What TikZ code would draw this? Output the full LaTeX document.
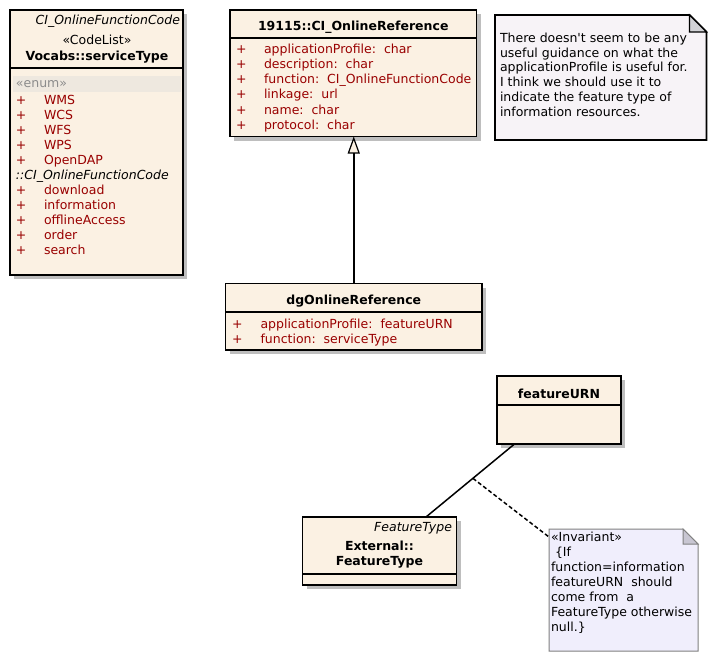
\documentclass[tikz,border=0pt]{standalone}
\usepackage{fontspec}
\setmainfont{DejaVu Sans}[Ligatures=TeXOff]
\usetikzlibrary{arrows.meta,shadows}
\definecolor{cream}{HTML}{FBF1E3}
\definecolor{shadowc}{HTML}{BEBEBE}
\definecolor{attrred}{HTML}{990000}
\definecolor{enumband}{HTML}{EEE8DF}
\definecolor{enumtext}{HTML}{8C8C8C}
\definecolor{noteone}{HTML}{F7F3F7}
\definecolor{foldone}{HTML}{D2D2D6}
\definecolor{notetwo}{HTML}{F0EEFC}
\definecolor{foldtwo}{HTML}{C8C6D2}
\definecolor{bordertwo}{HTML}{808080}
\tikzset{
  every node/.style={font=\fontsize{12.5}{15}\selectfont, inner sep=0pt, outer sep=0pt},
  umlbox/.style={draw=black, line width=1.8pt, fill=cream, anchor=north west, rectangle,
    drop shadow={shadow xshift=4pt, shadow yshift=-4pt, fill=shadowc, opacity=1}},
  sepline/.style={line width=2pt, draw=black},
  attr/.style={anchor=base west, text=attrred},
  plus/.style={anchor=base west, text=attrred},
  ttl/.style={anchor=base, font=\fontsize{12.5}{15}\selectfont\bfseries},
  ital/.style={anchor=base east, font=\fontsize{12.5}{15}\selectfont\itshape},
  notetxt/.style={anchor=base west, text=black},
  holder/.style={anchor=north west, rectangle},
}
\begin{document}
\begin{tikzpicture}[x=1pt,y=-1pt]
\useasboundingbox[fill=white] (0,0) rectangle (715,661);

% ---------- Vocabs::serviceType ----------
\node[umlbox, minimum width=173pt, minimum height=265pt] (st) at (10,10) {};
\draw[sepline] ([yshift=-58pt]st.north west) -- ([yshift=-58pt]st.north east);
\fill[enumband] (13,76) rectangle (181,92);
\node[ital] (sta) at (180,24.3) {CI\_OnlineFunctionCode};
\node[anchor=base] (stb) at (97,45) {«CodeList»};
\node[ttl] (stc) at (97,60) {Vocabs::serviceType};
\node[anchor=base west, text=enumtext] (ste) at (16,88) {«enum»};
\foreach \t [count=\i] in {WMS,WCS,WFS,WPS,OpenDAP}{
  \node[plus] (stp\i) at (16,104+15*\i-15) {+};
  \node[attr] (stv\i) at (44,104+15*\i-15) {\t};
}
\node[anchor=base west, font=\fontsize{12.5}{15}\selectfont\itshape] (stci) at (16,179) {::CI\_OnlineFunctionCode};
\foreach \t [count=\i] in {download,information,offlineAccess,order,search}{
  \node[plus] (stq\i) at (16,194+15*\i-15) {+};
  \node[attr] (stw\i) at (44,194+15*\i-15) {\t};
}

% ---------- 19115::CI_OnlineReference ----------
\node[umlbox, minimum width=246.5pt, minimum height=126.5pt] (ci) at (230,10) {};
\draw[sepline] ([yshift=-28.5pt]ci.north west) -- ([yshift=-28.5pt]ci.north east);
\node[ttl] (cit) at (353.25,31) {19115::CI\_OnlineReference};
\foreach \t [count=\i] in {{applicationProfile:\ \ char},{description:\ \ char},{function:\ \ CI\_OnlineFunctionCode},{linkage:\ \ url},{name:\ \ char},{protocol:\ \ char}}{
  \node[plus] (cip\i) at (236,54+15*\i-15) {+};
  \node[attr] (civ\i) at (264,54+15*\i-15) {\t};
}

% ---------- note 1 ----------
\node[holder, minimum width=211.5pt, minimum height=125pt] (n1) at (495,15) {};
\filldraw[line width=1.8pt, fill=noteone, draw=black]
  (n1.north west) -- ([xshift=-17pt]n1.north east) -- ([yshift=-17pt]n1.north east)
  -- (n1.south east) -- (n1.south west) -- cycle;
\filldraw[line width=1.2pt, fill=foldone, draw=black]
  ([xshift=-17pt]n1.north east) -- ([xshift=-17pt,yshift=-17pt]n1.north east) -- ([yshift=-17pt]n1.north east) -- cycle;
\foreach \t [count=\i] in {{There doesn't seem to be any},{useful guidance on what the},{applicationProfile is useful for.},{I think we should use it to},{indicate the feature type of},{information resources.}}{
  \node[notetxt] (n1l\i) at (500,42.5+14.7*\i-14.7) {\t};
}

% ---------- dgOnlineReference ----------
\node[umlbox, minimum width=256.5pt, minimum height=66.5pt] (dg) at (225.5,283.5) {};
\draw[sepline] ([yshift=-28.5pt]dg.north west) -- ([yshift=-28.5pt]dg.north east);
\node[ttl] (dgt) at (353.75,304) {dgOnlineReference};
\node[plus] (dgp1) at (232,328) {+};
\node[attr] (dgv1) at (260.5,328) {applicationProfile:\ \ featureURN};
\node[plus] (dgp2) at (232,343) {+};
\node[attr] (dgv2) at (260.5,343) {function:\ \ serviceType};

% generalization
\draw[line width=1.6pt, -{Triangle[open, length=17pt, width=12pt, fill=cream, line width=1.2pt]}]
  (dg.north) -- (dg.north |- ci.south);

% ---------- featureURN ----------
\node[umlbox, minimum width=124pt, minimum height=68pt] (fu) at (497,376) {};
\draw[sepline] ([yshift=-28.5pt]fu.north west) -- ([yshift=-28.5pt]fu.north east);
\node[ttl] (fut) at (559,398.3) {featureURN};

% ---------- External::FeatureType ----------
\node[umlbox, minimum width=154pt, minimum height=68pt] (ft) at (302.5,517) {};
\draw[sepline] ([yshift=-57pt]ft.north west) -- ([yshift=-57pt]ft.north east);
\node[ital] (fti) at (452,531.7) {FeatureType};
\node[ttl] (fta) at (379.5,550) {External::};
\node[ttl] (ftb) at (379.5,565) {FeatureType};

% association
\draw[line width=1.5pt] ([xshift=17.5pt]fu.south west) -- coordinate[pos=0.47] (mid) ([xshift=123.5pt]ft.north west);

% ---------- invariant note ----------
\node[holder, minimum width=149pt, minimum height=122pt] (inv) at (549,529) {};
\filldraw[line width=1pt, fill=notetwo, draw=bordertwo]
  (inv.north west) -- ([xshift=-15pt]inv.north east) -- ([yshift=-15pt]inv.north east)
  -- (inv.south east) -- (inv.south west) -- cycle;
\filldraw[line width=1pt, fill=foldtwo, draw=bordertwo]
  ([xshift=-15pt]inv.north east) -- ([xshift=-15pt,yshift=-15pt]inv.north east) -- ([yshift=-15pt]inv.north east) -- cycle;
\node[notetxt] (il1) at (551,541) {«Invariant»};
\node[notetxt] (il2) at (555,556) {\{If};
\node[notetxt] (il3) at (551,571) {function=information};
\node[notetxt] (il4) at (551,586) {featureURN\ \ should};
\node[notetxt] (il5) at (551,601) {come from\ \ a};
\node[notetxt] (il6) at (551,616) {FeatureType otherwise};
\node[notetxt] (il7) at (551,631) {null.\}};

% anchor link
\draw[line width=1.5pt, dash pattern=on 4pt off 2.5pt] (mid) -- ([yshift=-8pt]inv.north west);
\end{tikzpicture}
\end{document}
